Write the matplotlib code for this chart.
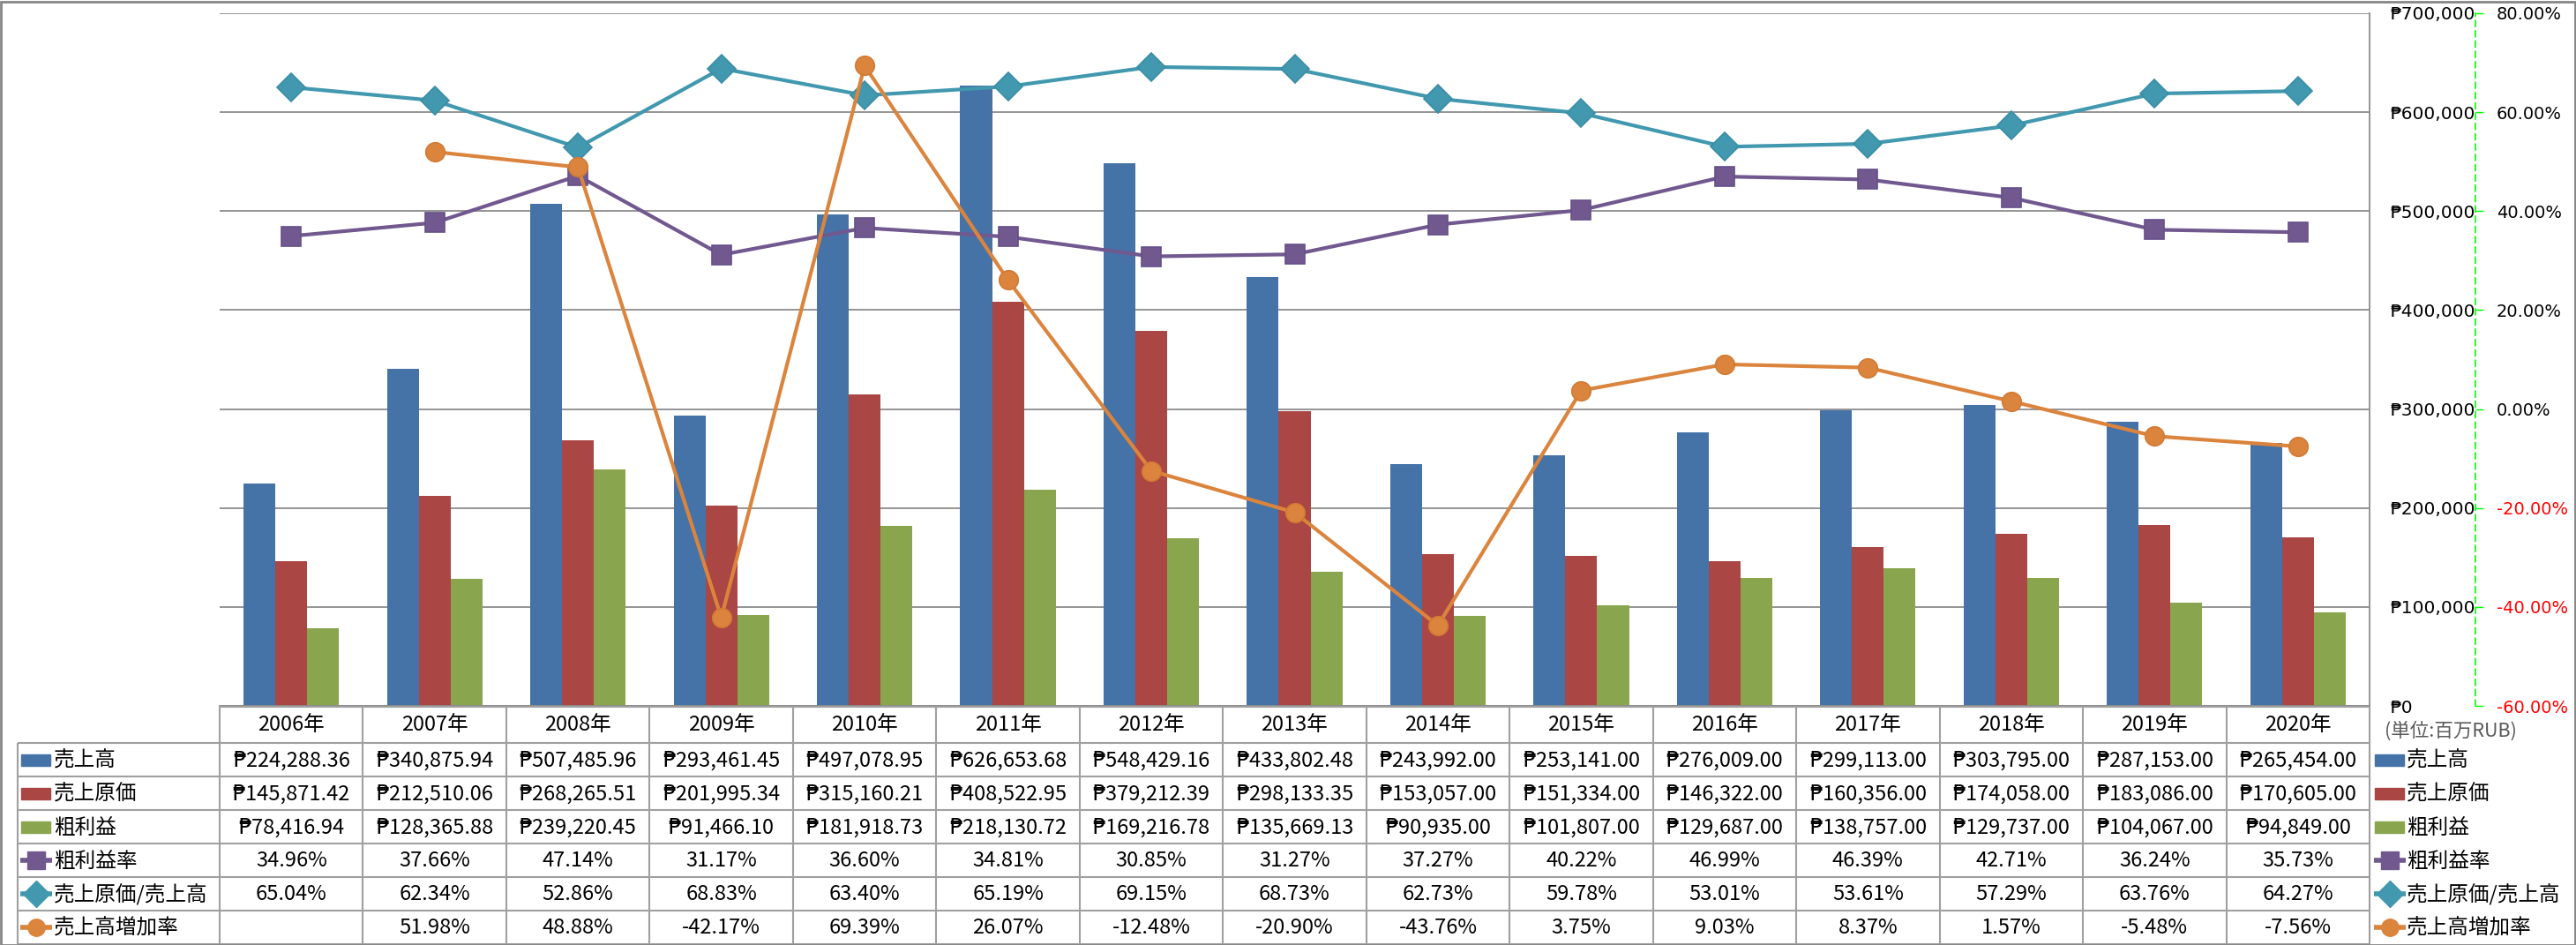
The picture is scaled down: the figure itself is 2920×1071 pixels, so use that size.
import matplotlib
matplotlib.use('Agg')
import matplotlib.pyplot as plt
import numpy as np
from matplotlib.patches import Rectangle
from matplotlib.ticker import FuncFormatter

# ---------------- data ----------------
years = ['2006年', '2007年', '2008年', '2009年', '2010年', '2011年', '2012年', '2013年',
         '2014年', '2015年', '2016年', '2017年', '2018年', '2019年', '2020年']
sales = [224288.36, 340875.94, 507485.96, 293461.45, 497078.95, 626653.68, 548429.16, 433802.48,
         243992.00, 253141.00, 276009.00, 299113.00, 303795.00, 287153.00, 265454.00]
cogs = [145871.42, 212510.06, 268265.51, 201995.34, 315160.21, 408522.95, 379212.39, 298133.35,
        153057.00, 151334.00, 146322.00, 160356.00, 174058.00, 183086.00, 170605.00]
gross = [78416.94, 128365.88, 239220.45, 91466.10, 181918.73, 218130.72, 169216.78, 135669.13,
         90935.00, 101807.00, 129687.00, 138757.00, 129737.00, 104067.00, 94849.00]
gross_margin = [34.96, 37.66, 47.14, 31.17, 36.60, 34.81, 30.85, 31.27, 37.27, 40.22, 46.99,
                46.39, 42.71, 36.24, 35.73]
cost_ratio = [65.04, 62.34, 52.86, 68.83, 63.40, 65.19, 69.15, 68.73, 62.73, 59.78, 53.01,
              53.61, 57.29, 63.76, 64.27]
growth = [np.nan, 51.98, 48.88, -42.17, 69.39, 26.07, -12.48, -20.90, -43.76, 3.75, 9.03,
          8.37, 1.57, -5.48, -7.56]

bar_names = ['売上高', '売上原価', '粗利益']
line_names = ['粗利益率', '売上原価/売上高', '売上高増加率']
unit_note = '(単位:百万RUB)'
money_ticks = [0, 100000, 200000, 300000, 400000, 500000, 600000, 700000]
pct_ticks = [-60, -40, -20, 0, 20, 40, 60, 80]

# ---------------- style ----------------
bar_colors = ['#4572A7', '#AA4643', '#89A54E']
line_colors = ['#71588F', '#4198AF', '#DB843D']
line_edge = ['#65508A', '#3A8EA6', '#D27A35']
line_markers = ['s', 'D', 'o']
line_ms = [15.5, 16, 15.5]
grid_c = '#8C8C8C'
tbl_c = '#A0A0A0'
FONT_T = ['Noto Sans CJK JP', 'DejaVu Sans']

W, H = 2920, 1071
fig = plt.figure(figsize=(W / 100, H / 100), dpi=100)
fig.patch.set_facecolor('white')

PL, PR, PT, PB = 249, 2686, 15, 800
ax = fig.add_axes([PL / W, (H - PB) / H, (PR - PL) / W, (PB - PT) / H])
x = np.arange(len(years))
bw = 0.222
for k, (vals, c) in enumerate(zip([sales, cogs, gross], bar_colors)):
    ax.bar(x + (k - 1) * bw, vals, width=bw, color=c, zorder=2, label=bar_names[k])
ax.set_xlim(-0.5, len(years) - 0.5)
ax.set_ylim(0, 700000)
ax.set_xticks([])
ax.yaxis.grid(True, color=grid_c, lw=1.3, zorder=0)
ax.set_axisbelow(True)

ax2 = ax.twinx()
for vals, c, ec, m, ms, nm in zip([gross_margin, cost_ratio, growth], line_colors, line_edge,
                                  line_markers, line_ms, line_names):
    ax2.plot(x, vals, color=c, lw=3, marker=m, ms=ms, mec=ec, mew=1.2, mfc=c, label=nm,
             zorder=3)
ax2.set_ylim(-60, 80)
ax2.set_yticks(pct_ticks)
ax2.yaxis.set_major_formatter(FuncFormatter(lambda v, p: '{:.2f}%'.format(v)))
for s in ['left', 'top', 'bottom']:
    ax2.spines[s].set_visible(False)
ax2.spines['right'].set_position(('axes', (2806 - PL) / (PR - PL)))
ax2.spines['right'].set_color('#00FF00')
ax2.spines['right'].set_linestyle((0, (4, 3)))
ax2.spines['right'].set_linewidth(1.2)
ax2.tick_params(axis='y', direction='out', length=6.5, color='#00FF00', width=1,
                pad=10.5, labelsize=14)
for t, v in zip(ax2.yaxis.get_major_ticks(), pct_ticks):
    t.label2.set_color('#FF0000' if v < 0 else 'black')

# primary axis labels (after twinx, which resets tick sides)
ax.set_yticks(money_ticks)
ax.yaxis.set_major_formatter(FuncFormatter(lambda v, p: '₱{:,.0f}'.format(v)))
ax.yaxis.set_ticks_position('right')
ax.tick_params(axis='y', left=False, right=False, labelleft=False, labelright=True,
               pad=17, labelsize=14.5, length=0)
for s in ['left', 'top']:
    ax.spines[s].set_visible(False)
ax.spines['right'].set_color(grid_c)
ax.spines['right'].set_linewidth(1.3)
ax.spines['bottom'].set_color(grid_c)
ax.spines['bottom'].set_linewidth(1.3)

# ---------------- data table ----------------
tax = fig.add_axes([PL / W, 0, (PR - PL) / W, 1])
tax.set_xlim(-0.5, len(years) - 0.5)
tax.set_ylim(H, 0)
tax.axis('off')
colw = (PR - PL) / len(years)


def xd(px):
    return -0.5 + (px - PL) / colw


row_edges = [842, 880, 918, 956, 994, 1032, 1070]
head_top = 801
lkw = dict(color=tbl_c, lw=1.5, clip_on=False, solid_capstyle='butt')
tax.plot([-0.5, len(years) - 0.5], [head_top, head_top], **lkw)
for y in row_edges:
    tax.plot([xd(20), len(years) - 0.5], [y, y], **lkw)
tax.plot([xd(20), xd(20)], [row_edges[0], row_edges[-1]], **lkw)
for i in range(len(years) + 1):
    tax.plot([i - 0.5, i - 0.5], [head_top, row_edges[-1]], **lkw)

fs = 17
for i, yl in enumerate(years):
    tax.text(i, (head_top + row_edges[0]) / 2, yl, ha='center', va='center', fontsize=fs,
             family=FONT_T)

rows = [['₱{:,.2f}'.format(v) for v in sales],
        ['₱{:,.2f}'.format(v) for v in cogs],
        ['₱{:,.2f}'.format(v) for v in gross],
        ['{:.2f}%'.format(v) for v in gross_margin],
        ['{:.2f}%'.format(v) for v in cost_ratio],
        ['' if np.isnan(v) else '{:.2f}%'.format(v) for v in growth]]
names = bar_names + line_names
for r, vals in enumerate(rows):
    yc = (row_edges[r] + row_edges[r + 1]) / 2
    for i, s in enumerate(vals):
        tax.text(i, yc + 1, s, ha='center', va='center', fontsize=fs, family=FONT_T)


def draw_key(px0, yc, r, txt_px):
    if r < 3:
        tax.add_patch(Rectangle((xd(px0), yc - 6.5), 33 / colw, 13, color=bar_colors[r],
                                clip_on=False))
    else:
        c = line_colors[r - 3]
        tax.plot([xd(px0 - 1), xd(px0 + 35)], [yc, yc], color=c, lw=4, clip_on=False,
                 solid_capstyle='butt')
        tax.plot([xd(px0 + 17)], [yc], marker=line_markers[r - 3], ms=[14, 15, 14][r - 3],
                 color=c, clip_on=False)
    tax.text(xd(txt_px), yc + 1, names[r], ha='left', va='center', fontsize=17,
             family=FONT_T)


for r in range(6):
    yc = (row_edges[r] + row_edges[r + 1]) / 2
    draw_key(24, yc, r, 61)
    draw_key(2692, yc, r, 2728)

tax.text(xd(2703), 829, unit_note, ha='left', va='center', fontsize=15.5, color='#595959',
         family=FONT_T)

# outer border
fig.add_artist(Rectangle((0.5 / W, 0.5 / H), (W - 2) / W, (H - 2) / H, transform=fig.transFigure,
                         fill=False, edgecolor='#868686', lw=2))

fig.savefig('out.png', dpi=100, facecolor='white')
